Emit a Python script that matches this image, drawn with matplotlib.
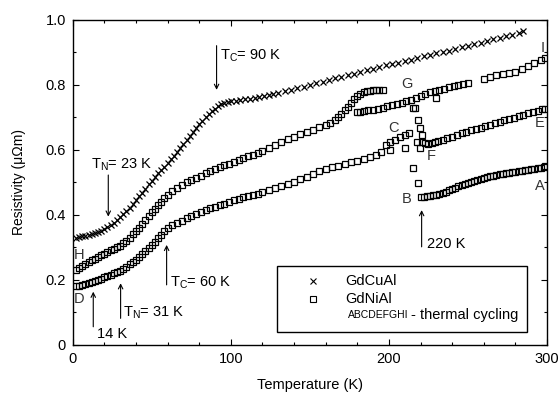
import matplotlib
matplotlib.use("Agg")
import matplotlib.pyplot as plt
from matplotlib.patches import Rectangle

plt.rcParams['font.family'] = ['Liberation Sans', 'DejaVu Sans']
plt.rcParams['mathtext.fontset'] = 'custom'
plt.rcParams['mathtext.rm'] = 'Liberation Sans'

# ---------------- data ----------------
# GdCuAl
cu_T = [2, 4, 6, 8, 10, 12, 14, 16, 18, 20, 22, 24, 26, 28, 30, 32, 34, 36, 38, 40,
        42, 44, 46, 48, 50, 52, 54, 56, 58, 60, 62, 64, 66, 68, 70, 72, 74, 76, 78, 80,
        82, 84, 86, 88, 90, 92, 94, 96, 98, 100, 103, 106, 109, 112, 115, 118, 121, 124,
        127, 130, 134, 138, 142, 146, 150, 154, 158, 162, 166, 170, 174, 178, 182, 186,
        190, 194, 198, 202, 206, 210, 214, 218, 222, 226, 230, 234, 238, 242, 246, 250,
        254, 258, 262, 266, 270, 274, 278, 282, 285]
cu_R = [0.330, 0.332, 0.334, 0.336, 0.338, 0.341, 0.344, 0.348, 0.352, 0.357, 0.362,
        0.368, 0.376, 0.385, 0.395, 0.404, 0.413, 0.423, 0.434, 0.445, 0.457, 0.469,
        0.481, 0.494, 0.506, 0.518, 0.528, 0.538, 0.549, 0.560, 0.571, 0.583, 0.595,
        0.607, 0.619, 0.631, 0.643, 0.655, 0.667, 0.679, 0.690, 0.700, 0.710, 0.719,
        0.727, 0.734, 0.740, 0.744, 0.747, 0.750, 0.752, 0.754, 0.756, 0.758, 0.761,
        0.764, 0.767, 0.770, 0.773, 0.776, 0.781, 0.786, 0.790, 0.795, 0.800, 0.805,
        0.810, 0.815, 0.820, 0.825, 0.830, 0.835, 0.840, 0.845, 0.850, 0.855, 0.860,
        0.864, 0.869, 0.874, 0.878, 0.883, 0.888, 0.892, 0.897, 0.901, 0.906, 0.911,
        0.916, 0.920, 0.925, 0.930, 0.935, 0.940, 0.945, 0.950, 0.955, 0.961, 0.966]

# GdNiAl, branch A-B (cooling 300 K -> 220 K)
ab_T = [220, 222, 224, 226, 228, 230, 232, 234, 236, 238, 240, 242, 244, 246, 248,
        250, 252, 254, 256, 258, 260, 262, 264, 266, 268, 270, 272, 274, 276, 278,
        280, 282, 284, 286, 288, 290, 292, 294, 296, 298, 299]
ab_R = [0.455, 0.456, 0.457, 0.459, 0.460, 0.462, 0.465, 0.468, 0.472, 0.476, 0.480,
        0.484, 0.488, 0.492, 0.495, 0.499, 0.502, 0.505, 0.508, 0.511, 0.514, 0.517,
        0.519, 0.521, 0.523, 0.525, 0.527, 0.529, 0.530, 0.532, 0.533, 0.535, 0.536,
        0.538, 0.539, 0.541, 0.542, 0.544, 0.546, 0.548, 0.550]

# GdNiAl, jump B -> C
bc_T = [218.6, 215.0, 210.0, 200.6, 217.5, 219.6]
bc_R = [0.497, 0.544, 0.605, 0.600, 0.626, 0.605]

# GdNiAl, branch C-D / D-C (lower curve)
cd_T = [2, 4, 6, 8, 10, 12, 14, 16, 18, 20, 22, 24, 26, 28, 30, 32, 34, 36, 38, 40,
        42, 44, 46, 48, 50, 52, 54, 56, 58, 60, 63, 66, 69, 72, 75, 78, 81, 84, 87, 90,
        93, 96, 99, 102, 105, 108, 111, 114, 117, 120, 124, 128, 132, 136, 140, 144,
        148, 152, 156, 160, 164, 168, 172, 176, 180, 184, 188, 192, 195, 198, 201, 204,
        207, 210, 213]
cd_R = [0.180, 0.182, 0.184, 0.187, 0.190, 0.193, 0.196, 0.200, 0.204, 0.208, 0.212,
        0.216, 0.220, 0.224, 0.228, 0.234, 0.241, 0.248, 0.255, 0.262, 0.270, 0.279,
        0.288, 0.297, 0.307, 0.317, 0.328, 0.339, 0.350, 0.360, 0.368, 0.376, 0.383,
        0.390, 0.397, 0.403, 0.409, 0.415, 0.420, 0.425, 0.430, 0.435, 0.440, 0.445,
        0.449, 0.454, 0.458, 0.462, 0.466, 0.470, 0.476, 0.482, 0.489, 0.496, 0.503,
        0.510, 0.518, 0.527, 0.536, 0.543, 0.548, 0.551, 0.556, 0.562, 0.567, 0.572,
        0.577, 0.586, 0.595, 0.615, 0.625, 0.632, 0.640, 0.646, 0.651]

# GdNiAl, branch E-F (cooling 300 K -> 221 K)
ef_T = [221, 223, 225, 227, 229, 231, 234, 237, 240, 243, 246, 249, 252, 255, 258,
        261, 264, 267, 270, 273, 276, 279, 282, 285, 288, 291, 294, 297, 299]
ef_R = [0.625, 0.620, 0.618, 0.622, 0.625, 0.628, 0.632, 0.636, 0.641, 0.647, 0.651,
        0.655, 0.660, 0.664, 0.668, 0.673, 0.677, 0.682, 0.686, 0.691, 0.695, 0.699,
        0.704, 0.708, 0.713, 0.717, 0.721, 0.725, 0.726]

# GdNiAl, jump F -> G
fg_T = [220.7, 219.6, 218.6, 216.5, 215.0, 230.0]
fg_R = [0.646, 0.667, 0.692, 0.728, 0.729, 0.759]

# GdNiAl, branch G-H / H-I (upper curve, 180 K -> 300 K)
gi_T = [180, 182, 184, 187, 190, 193, 196, 199, 202, 205, 208, 211, 214, 217, 220,
        223, 226, 229, 232, 235, 238, 241, 244, 247, 250, 260, 264, 268, 272, 276,
        280, 284, 288, 292, 296, 299]
gi_R = [0.717, 0.718, 0.720, 0.722, 0.724, 0.727, 0.730, 0.734, 0.738, 0.742, 0.746,
        0.750, 0.755, 0.760, 0.766, 0.772, 0.777, 0.781, 0.785, 0.789, 0.794, 0.798,
        0.801, 0.803, 0.805, 0.818, 0.825, 0.830, 0.833, 0.836, 0.840, 0.848, 0.858,
        0.868, 0.877, 0.884]

# GdNiAl, branch H -> (middle curve, 2 K -> 196 K)
hm_T = [2, 4, 6, 8, 10, 12, 14, 16, 18, 20, 22, 24, 26, 28, 30, 32, 34, 36, 38, 40,
        42, 44, 46, 48, 50, 52, 54, 56, 58, 60, 63, 66, 69, 72, 75, 78, 81, 84, 87, 90,
        93, 96, 99, 102, 105, 108, 111, 114, 117, 120, 124, 128, 132, 136, 140, 144,
        148, 152, 156, 160, 163, 166, 168, 170, 172, 174, 176, 178, 180, 182, 184, 186,
        188, 190, 192, 194, 196]
hm_R = [0.232, 0.238, 0.244, 0.250, 0.255, 0.260, 0.265, 0.270, 0.276, 0.281, 0.286,
        0.291, 0.296, 0.301, 0.306, 0.313, 0.321, 0.330, 0.340, 0.350, 0.361, 0.373,
        0.385, 0.397, 0.408, 0.419, 0.430, 0.441, 0.452, 0.462, 0.474, 0.484, 0.492,
        0.500, 0.507, 0.514, 0.521, 0.528, 0.535, 0.541, 0.547, 0.553, 0.558, 0.563,
        0.568, 0.574, 0.580, 0.586, 0.592, 0.598, 0.606, 0.615, 0.624, 0.633, 0.641,
        0.649, 0.656, 0.663, 0.670, 0.677, 0.684, 0.692, 0.700, 0.710, 0.722, 0.733,
        0.745, 0.756, 0.766, 0.773, 0.778, 0.781, 0.783, 0.784, 0.785, 0.785, 0.786]

ni_branches = [(ab_T, ab_R), (bc_T, bc_R), (cd_T, cd_R), (ef_T, ef_R),
               (fg_T, fg_R), (gi_T, gi_R), (hm_T, hm_R)]

# point labels (letter, T, R)
letters = ['A', 'B', 'C', 'D', 'E', 'F', 'G', 'H', 'I']
letter_T = [295.5, 211.4, 202.8, 0.5, 295.5, 227.0, 211.6, 0.5, 297.5]
letter_R = [0.490, 0.448, 0.667, 0.142, 0.682, 0.580, 0.803, 0.277, 0.913]

# ---------------- figure ----------------
fig = plt.figure(figsize=(5.58, 3.96), dpi=100)
ax = fig.add_axes([0.1303, 0.1288, 0.850, 0.8207])

ax.plot(cu_T, cu_R, linestyle='none', marker='x', color='black',
        markersize=4.3, markeredgewidth=0.9)
for T, R in ni_branches:
    ax.plot(T, R, linestyle='none', marker='s', markerfacecolor='none',
            markeredgecolor='black', markersize=4.3, markeredgewidth=0.9)

ax.set_xlim(0, 300)
ax.set_ylim(0, 1.0)
ax.set_xticks([0, 100, 200, 300])
ax.set_xticks(range(0, 301, 20), minor=True)
ax.set_yticks([0, 0.2, 0.4, 0.6, 0.8, 1.0])
ax.set_yticklabels(['0', '0.2', '0.4', '0.6', '0.8', '1.0'])
ax.set_yticks([0.1, 0.3, 0.5, 0.7, 0.9], minor=True)
ax.tick_params(which='both', direction='in', top=True, right=True,
               labelsize=10.5, width=0.8)
ax.tick_params(which='major', length=4.5, pad=5)
ax.tick_params(which='minor', length=2.5)
for s in ax.spines.values():
    s.set_linewidth(1.0)

ax.set_xlabel('Temperature (K)', fontsize=10.5, labelpad=9)
ax.set_ylabel('Resistivity (\u03bc\u03a9m)', fontsize=10, labelpad=14)

arrow = dict(arrowstyle='->', lw=0.8, color='black', shrinkA=0, shrinkB=0,
             mutation_scale=8)
fs = 10.5
# T_C = 90 K
ax.annotate('', xy=(91, 0.785), xytext=(91, 0.921), arrowprops=arrow)
ax.text(93.3, 0.890, r'T$_\mathregular{C}$= 90 K', fontsize=fs, ha='left', va='center')
# T_N = 23 K
ax.annotate('', xy=(22.5, 0.395), xytext=(22.5, 0.523), arrowprops=arrow)
ax.text(11.6, 0.555, r'T$_\mathregular{N}$= 23 K', fontsize=fs, ha='left', va='center')
# 14 K
ax.annotate('', xy=(13, 0.164), xytext=(13, 0.056), arrowprops=arrow)
ax.text(15.2, 0.034, '14 K', fontsize=fs, ha='left', va='center')
# T_N = 31 K
ax.annotate('', xy=(30.3, 0.19), xytext=(30.3, 0.082), arrowprops=arrow)
ax.text(32, 0.100, r'T$_\mathregular{N}$= 31 K', fontsize=fs, ha='left', va='center')
# T_C = 60 K
ax.annotate('', xy=(59.4, 0.308), xytext=(59.4, 0.185), arrowprops=arrow)
ax.text(61.5, 0.192, r'T$_\mathregular{C}$= 60 K', fontsize=fs, ha='left', va='center')
# 220 K
ax.annotate('', xy=(220.7, 0.415), xytext=(220.7, 0.302), arrowprops=arrow)
ax.text(224, 0.311, '220 K', fontsize=fs, ha='left', va='center')

for L, T, R in zip(letters, letter_T, letter_R):
    ha = 'left' if T < 5 else 'center'
    ax.text(T, R, L, fontsize=10.5, ha=ha, va='center', color='#333333')

# legend box (manual)
ax.add_patch(Rectangle((0.431, 0.040), 0.527, 0.203, transform=ax.transAxes,
                       fill=False, edgecolor='black', lw=1.0))
ax.plot([0.507], [0.197], transform=ax.transAxes, linestyle='none', marker='x',
        color='black', markersize=4, markeredgewidth=0.8)
ax.plot([0.507], [0.1415], transform=ax.transAxes, linestyle='none', marker='s',
        markerfacecolor='none', markeredgecolor='black', markersize=4,
        markeredgewidth=0.8)
ax.text(0.574, 0.197, 'GdCuAl', transform=ax.transAxes, fontsize=10.5,
        ha='left', va='center')
ax.text(0.574, 0.1415, 'GdNiAl', transform=ax.transAxes, fontsize=10.5,
        ha='left', va='center')
ax.text(0.580, 0.092, 'ABCDEFGHI', transform=ax.transAxes, fontsize=7.5,
        ha='left', va='center')
ax.text(0.939, 0.092, '- thermal cycling', transform=ax.transAxes, fontsize=10.5,
        ha='right', va='center')

fig.savefig('out.png', dpi=100)
